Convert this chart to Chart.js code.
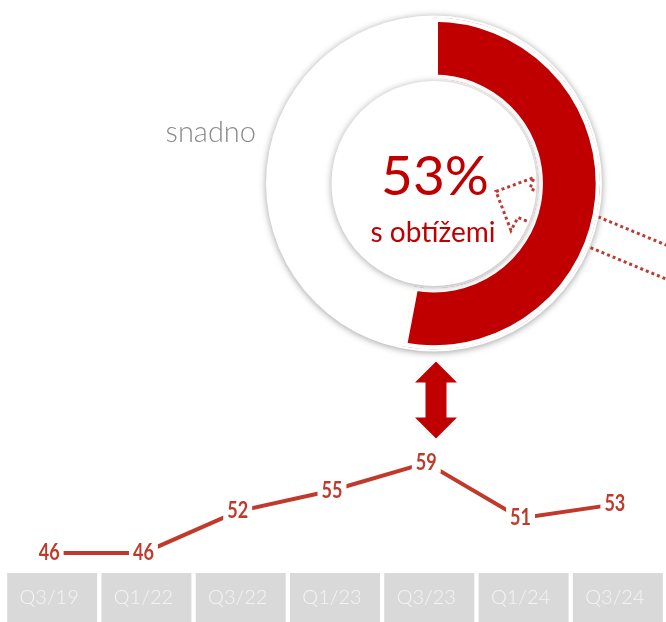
<!DOCTYPE html>
<html><head><meta charset="utf-8">
<script src="https://cdn.jsdelivr.net/npm/chart.js@4/dist/chart.umd.min.js"></script>
<style>
html,body{margin:0;padding:0;background:#fff;}
#wrap{position:relative;width:666px;height:622px;overflow:hidden;background:#fff;}
#lineBox{position:absolute;left:0;top:370px;width:666px;height:252px;}
#donutBox{position:absolute;left:0;top:0;width:666px;height:445px;}
</style></head><body>
<div id="wrap">
  <div id="lineBox"><canvas id="line"></canvas></div>
  <div id="donutBox"><canvas id="donut"></canvas></div>
</div>
<script>
// ---- data ----
const shareLabels = ['s obtížemi', 'snadno'];
const shareValues = [53, 47];
const quarters = ['Q3/19', 'Q1/22', 'Q3/22', 'Q1/23', 'Q3/23', 'Q1/24', 'Q3/24'];
const trendValues = [46, 46, 52, 55, 59, 51, 53];

const RED = '#C00000';
const LINE_RED = '#C0392B';

Chart.defaults.animation = false;

const donutDecor = {
  id: 'donutDecor',
  beforeDatasetsDraw(chart) {
    const arc = chart.getDatasetMeta(0).data[0];
    const cx = arc.x, cy = arc.y, R = arc.outerRadius;
    const ctx = chart.ctx;
    ctx.save();
    ctx.shadowColor = 'rgba(0,0,0,0.38)';
    ctx.shadowBlur = 7;
    ctx.shadowOffsetY = 1;
    ctx.fillStyle = '#fff';
    ctx.beginPath(); ctx.arc(cx, cy, R + 2, 0, Math.PI * 2); ctx.fill();
    ctx.restore();
  },
  afterDatasetsDraw(chart) {
    const arc = chart.getDatasetMeta(0).data[0];
    const cx = arc.x, cy = arc.y, R = arc.outerRadius, r = arc.innerRadius;
    const ctx = chart.ctx;
    // raised inner disc
    ctx.save();
    ctx.shadowColor = 'rgba(0,0,0,0.35)';
    ctx.shadowBlur = 7;
    ctx.shadowOffsetY = 1;
    ctx.fillStyle = '#fff';
    ctx.beginPath(); ctx.arc(cx, cy, r - 2, 0, Math.PI * 2); ctx.fill();
    ctx.restore();

    // dotted outline arrow (visible in the hole and outside the ring)
    ctx.save();
    ctx.beginPath();
    ctx.rect(0, 0, chart.width, chart.height);
    ctx.moveTo(cx + R + 2, cy); ctx.arc(cx, cy, R + 2, 0, Math.PI * 2);
    ctx.moveTo(cx + r - 2, cy); ctx.arc(cx, cy, r - 2, 0, Math.PI * 2);
    ctx.clip('evenodd');
    ctx.strokeStyle = '#BE3A34';
    ctx.lineWidth = 3;
    ctx.setLineDash([3, 3]);
    ctx.beginPath();
    ctx.moveTo(cx + 250, cy + 69);
    ctx.lineTo(cx + 96, cy + 5);
    ctx.lineTo(cx + 100, cy - 6);
    ctx.lineTo(cx + 62, cy + 8);
    ctx.lineTo(cx + 77, cy + 47);
    ctx.lineTo(cx + 84, cy + 34);
    ctx.lineTo(cx + 250, cy + 103);
    ctx.stroke();
    ctx.restore();

    // centre texts
    ctx.save();
    ctx.textAlign = 'center';
    ctx.textBaseline = 'alphabetic';
    ctx.fillStyle = RED;
    ctx.font = '400 55px Lato';
    ctx.fillText(shareValues[0] + '%', cx + 1, cy + 11);
    ctx.font = '400 28px Lato';
    ctx.fillText(shareLabels[0], cx - 1, cy + 58);
    ctx.fillStyle = '#8A8A8A';
    ctx.font = '300 29px Lato';
    ctx.textAlign = 'right';
    ctx.fillText(shareLabels[1], cx - R - 12, cy - 42);
    ctx.restore();

    // double-headed block arrow below the donut
    const ax = cx + 2, top = cy + R + 12;
    ctx.save();
    ctx.fillStyle = RED;
    ctx.beginPath();
    ctx.moveTo(ax, top);
    ctx.lineTo(ax + 21, top + 21);
    ctx.lineTo(ax + 10.5, top + 21);
    ctx.lineTo(ax + 10.5, top + 56);
    ctx.lineTo(ax + 21, top + 56);
    ctx.lineTo(ax, top + 77);
    ctx.lineTo(ax - 21, top + 56);
    ctx.lineTo(ax - 10.5, top + 56);
    ctx.lineTo(ax - 10.5, top + 21);
    ctx.lineTo(ax - 21, top + 21);
    ctx.closePath();
    ctx.fill();
    ctx.restore();
  }
};

new Chart(document.getElementById('donut'), {
  type: 'doughnut',
  data: {
    labels: shareLabels,
    datasets: [{
      data: shareValues,
      backgroundColor: [RED, '#FFFFFF'],
      borderColor: '#FFFFFF',
      borderWidth: [4, 0],
      borderAlign: 'inner',
      hoverOffset: 0
    }]
  },
  options: {
    responsive: true,
    maintainAspectRatio: false,
    events: [],
    cutout: '63%',
    layout: { padding: { top: 17, left: 268, right: 66, bottom: 95 } },
    plugins: { legend: { display: false }, tooltip: { enabled: false } }
  },
  plugins: [donutDecor]
});

const lineDecor = {
  id: 'lineDecor',
  beforeDraw(chart) {
    const xs = chart.scales.x;
    const ctx = chart.ctx;
    ctx.save();
    ctx.fillStyle = '#D9D9D9';
    quarters.forEach((q, i) => {
      const x = xs.getPixelForTick(i) + 3;
      ctx.fillRect(x - 45, xs.top, 90, xs.bottom - xs.top);
    });
    ctx.restore();
  },
  afterDatasetsDraw(chart) {
    const meta = chart.getDatasetMeta(0);
    const ctx = chart.ctx;
    ctx.save();
    ctx.font = 'bold 22px Lato';
    ctx.textAlign = 'center';
    ctx.textBaseline = 'middle';
    meta.data.forEach((pt, i) => {
      const t = String(trendValues[i]);
      const w = ctx.measureText(t).width * 0.82;
      ctx.fillStyle = '#fff';
      ctx.fillRect(pt.x - w / 2 - 4, pt.y - 11, w + 8, 21);
      ctx.fillStyle = LINE_RED;
      ctx.save();
      ctx.translate(pt.x, pt.y);
      ctx.scale(0.82, 1);
      ctx.fillText(t, 0, 0);
      ctx.restore();
    });
    ctx.restore();
  }
};

new Chart(document.getElementById('line'), {
  type: 'line',
  data: {
    labels: quarters,
    datasets: [{
      data: trendValues,
      borderColor: LINE_RED,
      borderWidth: 4,
      pointRadius: 0,
      tension: 0,
      fill: false
    }]
  },
  options: {
    responsive: true,
    maintainAspectRatio: false,
    events: [],
    layout: { padding: { top: 72, left: 2, right: 4, bottom: 0 } },
    scales: {
      x: {
        offset: true,
        grid: { display: false, drawTicks: false },
        border: { display: false },
        ticks: { color: '#F4F4F4', font: { family: 'Lato', size: 20, weight: '300' }, padding: 13 },
        afterFit(scale) { scale.height = 49; }
      },
      y: { display: false, min: 43.1, max: 62 }
    },
    plugins: { legend: { display: false }, tooltip: { enabled: false } }
  },
  plugins: [lineDecor]
});
</script>
</body></html>
